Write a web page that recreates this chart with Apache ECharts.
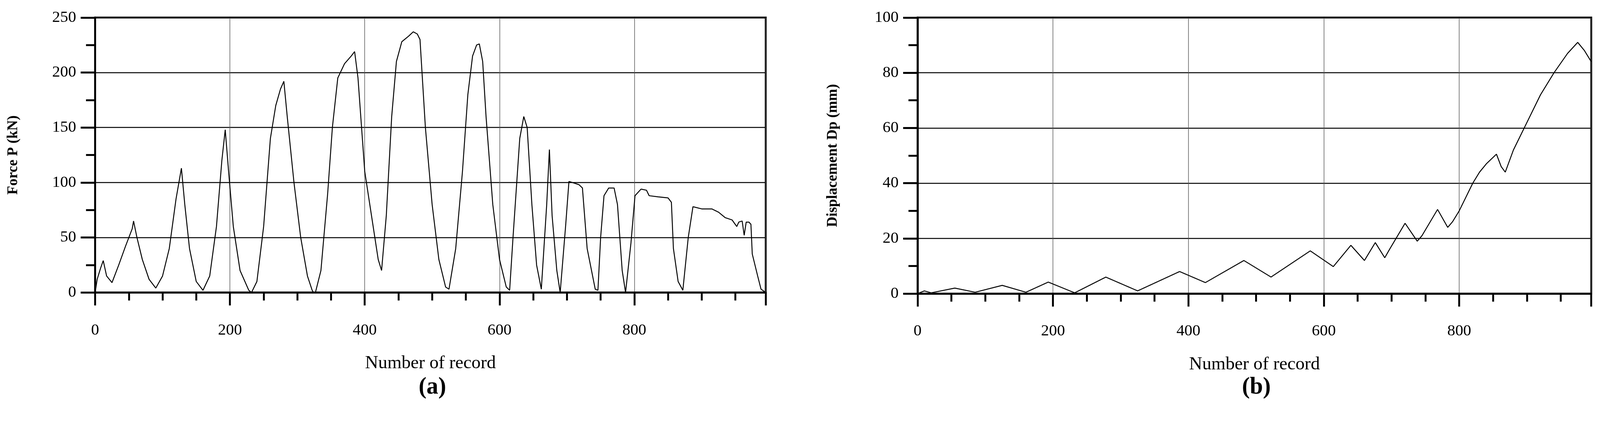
<!DOCTYPE html>
<html>
<head>
<meta charset="utf-8">
<script src="https://cdn.jsdelivr.net/npm/echarts@6.0.0/dist/echarts.min.js"></script>
<style>html,body{margin:0;padding:0;background:#fff;overflow:hidden}#root{width:100vw;height:100vh}</style>
</head>
<body>
<div id="root"></div>
<script>
// Force P (kN) vs number of record
const forceRecords = [0,3,8,12,17,25,35,45,50,55,57,62,70,80,90,100,110,120,128,133,140,150,160,170,180,188,193,198,205,215,228,232,240,250,260,268,275,280,285,295,305,315,322,326,335,345,352,360,370,380,385,390,400,410,420,425,432,440,447,455,465,472,478,482,485,490,500,510,520,525,535,545,553,560,566,570,575,580,590,600,610,615,620,630,636,641,648,655,662,670,674,678,685,690,698,703,708,718,723,730,742,746,750,755,762,770,775,782,787,795,801,810,818,822,835,850,855,858,865,872,880,887,900,915,925,935,945,952,955,960,963,966,970,973,975,983,988,995];
const forceValues = [0,12,22,29,15,9,25,42,50,58,65,50,30,12,4,15,40,85,113,80,40,10,2,15,60,120,148,110,60,20,2,0,10,60,140,170,185,192,160,100,50,15,2,-2,20,90,150,195,208,215,219,195,110,70,30,20,70,160,210,228,233,237,235,230,200,150,80,30,5,3,40,110,180,215,225,226,210,160,80,30,5,2,50,140,160,150,80,25,3,80,130,70,20,0,60,101,100,98,95,40,3,2,50,88,95,95,80,20,0,45,88,94,93,88,87,86,82,40,10,2,50,78,76,76,73,68,66,60,64,65,52,64,64,62,35,15,3,0];
// Displacement Dp (mm) vs number of record
const dispRecords = [0,10,20,55,85,125,160,193,232,278,325,387,425,482,522,580,614,640,660,676,690,697,720,738,745,768,783,790,800,810,820,830,840,855,862,868,880,900,920,940,960,975,985,995];
const dispValues = [0,1,0.3,2,0.5,3,0.5,4.2,0.3,6,1,8,4,12,6,15.5,9.8,17.5,12,18.5,13,16,25.5,19,21,30.5,24,26,30,35,40,44,47,50.5,46,44,52,62,72,80,87,91,88,84];
const xTicks = [0, 200, 400, 600, 800];

const pairs = (xs, ys) => xs.map((x, i) => [x, ys[i]]);
const serif = "Liberation Serif";
// layout was measured on a 4204 px wide picture; scale to the real window
const s = (window.innerWidth || 4204) / 4204;
const k = (v) => v * s;

function xAxis(gridIndex) {
  return {
    type: "value", gridIndex, min: 0, max: 995, interval: 200,
    name: "Number of record", nameLocation: "middle", nameGap: k(162),
    nameTextStyle: { fontFamily: serif, fontSize: k(48), color: "#000" },
    axisLine: { lineStyle: { color: "#000", width: k(5) } },
    axisTick: { show: true, length: k(34), lineStyle: { color: "#000", width: k(5) } },
    minorTick: { show: true, splitNumber: 4, length: k(21), lineStyle: { color: "#000", width: k(5) } },
    axisLabel: { margin: k(78), fontFamily: serif, fontSize: k(42), color: "#000", showMaxLabel: false,
      formatter: (v) => (xTicks.includes(v) ? String(v) : "") },
    splitLine: { show: true, lineStyle: { color: "#555", width: k(1.5) } },
  };
}

function yAxis(gridIndex, max, interval, name, gap) {
  return {
    type: "value", gridIndex, min: 0, max, interval,
    name, nameLocation: "middle", nameGap: k(gap),
    nameTextStyle: { fontFamily: serif, fontWeight: "bold", fontSize: k(38), color: "#000" },
    axisLine: { show: true, lineStyle: { color: "#000", width: k(5) } },
    axisTick: { show: true, length: k(38), lineStyle: { color: "#000", width: k(5) } },
    minorTick: { show: true, splitNumber: 2, length: k(24), lineStyle: { color: "#000", width: k(5) } },
    axisLabel: { margin: k(50), fontFamily: serif, fontSize: k(42), color: "#000" },
    splitLine: { show: true, lineStyle: { color: "#000", width: k(2.5) } },
  };
}

const capStyle = {
  fontFamily: serif, fontSize: k(62), color: "#000",
  rich: { b: { fontFamily: serif, fontSize: k(62), fontWeight: "bold", color: "#000" } },
};

const chart = echarts.init(document.getElementById("root"), null, { renderer: "canvas" });
chart.setOption({
  backgroundColor: "#fff",
  animation: false,
  title: [
    { text: "({b|a})", left: k(1131), top: k(982), textAlign: "center", textStyle: capStyle },
    { text: "({b|b})", left: k(3296), top: k(982), textAlign: "center", textStyle: capStyle },
  ],
  grid: [
    { left: k(250), top: k(46), width: k(1762), height: k(722), show: true, borderColor: "#000", borderWidth: k(5) },
    { left: k(2411), top: k(46), width: k(1770), height: k(725), show: true, borderColor: "#000", borderWidth: k(5) },
  ],
  xAxis: [xAxis(0), xAxis(1)],
  yAxis: [
    yAxis(0, 250, 50, "Force P (kN)", 196),
    yAxis(1, 100, 20, "Displacement Dp (mm)", 203),
  ],
  series: [
    { type: "line", xAxisIndex: 0, yAxisIndex: 0, data: pairs(forceRecords, forceValues),
      showSymbol: false, lineStyle: { color: "#000", width: k(2.5) } },
    { type: "line", xAxisIndex: 1, yAxisIndex: 1, data: pairs(dispRecords, dispValues),
      showSymbol: false, lineStyle: { color: "#000", width: k(2.5) } },
  ],
});
</script>
</body>
</html>
